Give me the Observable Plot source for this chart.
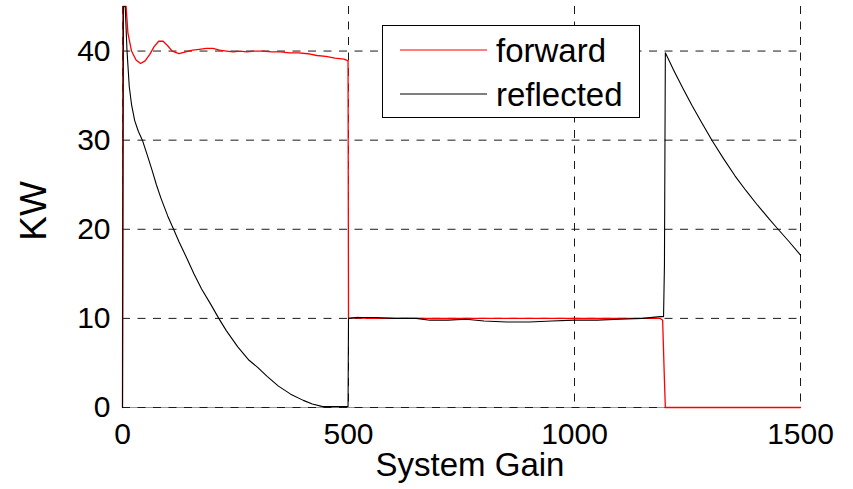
<!DOCTYPE html>
<html>
<head>
<meta charset="utf-8">
<script src="https://cdn.jsdelivr.net/npm/d3@7"></script>
<script src="https://cdn.jsdelivr.net/npm/@observablehq/plot@0.6"></script>
<style>
  html, body { margin: 0; padding: 0; background: #fff; }
  #wrap { position: relative; width: 853px; height: 489px; font-family: "Liberation Sans", Arial, sans-serif; }
  #legend { position: absolute; left: 382px; top: 25px; width: 258px; height: 93px; box-sizing: border-box;
            border: 1.5px solid #000; background: #fff; }
</style>
</head>
<body>
<div id="wrap"></div>
<script>
// ---- data ----
const seriesNames = ["forward", "reflected"];
const seriesColors = ["#ff0000", "#000000"];

const forwardGain = [0, 1, 8, 12, 20, 30, 40, 50, 60, 70, 80, 90, 100, 110, 125, 140, 155, 170, 185, 200, 215, 230, 245, 260, 275, 290, 310, 330, 350, 370, 390, 410, 430, 450, 470, 490, 499, 500, 520, 540, 600, 700, 800, 900, 1000, 1100, 1190, 1195, 1199, 1201, 1500];
const forwardKW   = [0, 45, 45, 42, 40, 39, 38.6, 38.9, 39.6, 40.5, 41.1, 41.1, 40.6, 40.0, 39.7, 39.9, 40.1, 40.2, 40.3, 40.3, 40.1, 40.0, 39.9, 40.0, 39.9, 40.0, 40.0, 39.9, 39.9, 39.8, 39.8, 39.7, 39.5, 39.4, 39.2, 39.1, 38.9, 10.0, 10.1, 10.0, 10.0, 10.0, 10.0, 10.0, 10.0, 10.0, 10.0, 9.8, 3.0, 0, 0];

const reflectedGain = [0, 2, 6, 10, 15, 20, 27, 35, 44, 55, 65, 75, 85, 100, 113, 125, 140, 158, 175, 195, 213, 230, 255, 280, 299, 320, 345, 372, 400, 420, 443, 499, 500, 520, 560, 600, 650, 680, 720, 760, 800, 850, 900, 950, 1000, 1050, 1100, 1150, 1190, 1197, 1199, 1201, 1220, 1240, 1260, 1280, 1305, 1330, 1355, 1380, 1405, 1430, 1447, 1475, 1500];
const reflectedKW   = [0, 45, 45, 40, 36, 34, 32.2, 31, 30, 28.3, 26.7, 25, 23.5, 21.5, 20, 18.6, 17, 15, 13.3, 11.6, 10, 8.6, 6.8, 5.3, 4.5, 3.5, 2.4, 1.5, 0.8, 0.4, 0.1, 0.1, 10.0, 10.1, 10.1, 10.0, 10.0, 9.8, 9.8, 9.9, 9.7, 9.6, 9.6, 9.7, 9.8, 9.8, 9.9, 10.0, 10.2, 10.2, 16, 39.8, 37.8, 35.8, 33.9, 32.1, 29.9, 27.9, 26.0, 24.3, 22.7, 21.2, 20.2, 18.6, 17.1];

const xTicks = [0, 500, 1000, 1500];
const yTicks = [0, 10, 20, 30, 40];
const xTitle = "System Gain";
const yTitle = "KW";

// ---- tables built from the arrays ----
const forward = forwardGain.map((g, i) => ({gain: g, kw: forwardKW[i]}));
const reflected = reflectedGain.map((g, i) => ({gain: g, kw: reflectedKW[i]}));

const gridStyle = {stroke: "#1a1a1a", strokeOpacity: 1, strokeWidth: 1, strokeDasharray: "8,7.5"};

const chart = Plot.plot({
  width: 853,
  height: 489,
  marginLeft: 122,
  marginRight: 53,
  marginTop: 6,
  marginBottom: 82,
  x: {domain: [0, 1500]},
  y: {domain: [0, 45]},
  style: {fontFamily: "'Liberation Sans', Arial, sans-serif", background: "#fff", color: "#000"},
  marks: [
    Plot.ruleY([0], {stroke: "#999", strokeWidth: 1}),
    Plot.gridX(xTicks, gridStyle),
    Plot.gridY(yTicks, gridStyle),
    Plot.axisX(xTicks, {tickSize: 0, tickPadding: 15, fontSize: 30, label: null, tickFormat: d => String(d)}),
    Plot.axisY(yTicks, {tickSize: 0, tickPadding: 12, fontSize: 30, label: null, tickFormat: d => String(d)}),
    Plot.line(forward, {x: "gain", y: "kw", stroke: seriesColors[0], strokeWidth: 1.3}),
    Plot.line(reflected, {x: "gain", y: "kw", stroke: seriesColors[1], strokeWidth: 1.1}),
    Plot.text([xTitle], {frameAnchor: "bottom", text: d => d, textAnchor: "middle", lineAnchor: "middle", dx: 8.5, dy: 58, fontSize: 33, ariaLabel: "xtitle"}),
    Plot.text([yTitle], {frameAnchor: "left", text: d => d, textAnchor: "middle", lineAnchor: "middle", rotate: -90, dx: -88.5, dy: 4, fontSize: 37, ariaLabel: "ytitle"})
  ]
});

const wrap = document.getElementById("wrap");
wrap.appendChild(chart);

// widen the x title like the reference rendering
d3.select(chart).selectAll('g[aria-label="xtitle"] text')
  .attr("textLength", 232).attr("lengthAdjust", "spacingAndGlyphs");

// ---- legend (inside the plot area, top centre) ----
const legend = document.createElement("div");
legend.id = "legend";
const ls = d3.create("svg").attr("width", 256).attr("height", 91);
seriesNames.forEach((name, i) => {
  const yy = 24 + i * 44;
  ls.append("line").attr("x1", 17).attr("x2", 104).attr("y1", yy).attr("y2", yy)
    .attr("stroke", seriesColors[i]).attr("stroke-width", 1.2);
  ls.append("text").attr("x", 113).attr("y", yy + 12).attr("font-size", 33)
    .attr("font-family", "'Liberation Sans', Arial, sans-serif").attr("fill", "#000").text(name);
});
legend.appendChild(ls.node());
wrap.appendChild(legend);
</script>
</body>
</html>
